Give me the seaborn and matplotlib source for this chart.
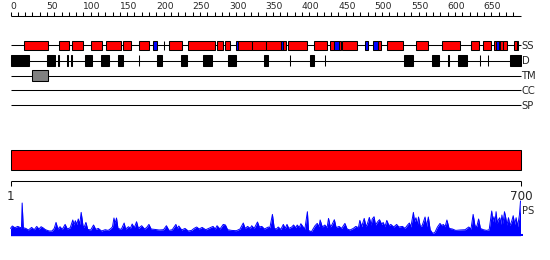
import matplotlib
matplotlib.use("Agg")
import matplotlib.pyplot as plt
import seaborn as sns
import pandas as pd

# ---------------- data ----------------
protein_length = 700
track_names = ["SS", "D", "TM", "CC", "SP"]

helix_segments = [(19, 51), (66, 80), (85, 99), (111, 125), (131, 152), (155, 165),
                  (177, 190), (210, 211), (218, 236), (243, 280), (284, 291), (295, 301),
                  (312, 331), (331, 350), (350, 371), (374, 378), (381, 407), (417, 434),
                  (439, 444), (451, 453), (455, 476), (504, 508), (517, 539), (556, 573),
                  (592, 617), (632, 643), (649, 659), (663, 666), (670, 672), (672, 676),
                  (676, 682), (691, 695), (695, 697)]
strand_segments = [(196, 201), (309, 312), (371, 374), (444, 451), (487, 490),
                   (498, 504), (666, 670)]
disorder_segments = [(0, 26), (50, 61), (65, 66), (78, 79), (83, 84), (102, 112),
                     (124, 135), (148, 154), (176, 177), (201, 208), (234, 242),
                     (264, 277), (298, 310), (348, 353), (383, 384), (411, 417),
                     (431, 432), (540, 552), (578, 588), (601, 602), (614, 627),
                     (644, 645), (655, 656), (686, 700)]
tm_segments = [(30, 52)]
domain_segments = [(1, 700)]
bottom_tick_labels = ["1", "700"]

ps_residue = [0, 2.5, 6, 10, 13, 15, 16, 17.5, 21, 24.5,
              29, 32.5, 36, 39, 42, 45, 48, 53, 57, 60,
              62.5, 65, 68, 71, 75, 78, 82, 85.5, 87, 89,
              91, 93, 95, 97, 99.5, 101, 103.5, 106, 110, 114,
              117, 120.5, 125, 130, 134, 138, 140, 142, 143.5, 145.5,
              147.5, 152, 156, 158, 162, 164.5, 167, 170, 173, 175.5,
              180, 184, 187, 190, 193, 198, 204, 210, 214, 217.5,
              222, 227, 229, 231, 235, 239.5, 244, 248.5, 252, 255.5,
              259, 263, 268, 272, 278, 281, 283.5, 287.5, 292, 295,
              298, 303.5, 310, 315, 319.5, 322, 325.5, 329, 331, 334.5,
              339, 341.5, 345, 348.5, 354, 356, 359.5, 362, 365, 367.5,
              371, 374.5, 377, 379.5, 382, 386, 388.5, 391.5, 393.5, 396.5,
              398.5, 401.5, 404, 407.5, 409, 413, 418, 421, 423.5, 425,
              428, 431.5, 434.5, 436.5, 439, 441.5, 444.5, 447, 451, 454.5,
              459, 462, 466, 470.5, 474, 477.5, 479.5, 482, 485.5, 488,
              490, 492.5, 495, 496.5, 499, 501, 504, 506.5, 509.5, 511.5,
              514, 516.5, 519.5, 522, 526, 530, 533, 538, 541.5, 545,
              547.5, 549.5, 553, 554.5, 556.5, 558.5, 560, 562.5, 565, 569,
              571, 573.5, 576, 579.5, 582.5, 586, 589.5, 592, 594, 596.5,
              599, 602, 606.5, 611, 617, 624, 629, 632, 635, 637.5,
              640, 642.5, 645, 649, 653.5, 657, 660.5, 662, 663.5, 665,
              666.5, 668, 669.5, 671.5, 673, 674.5, 676, 678, 679.5, 681.5,
              683.5, 685.5, 688, 690, 692, 694, 696, 698.5, 700]
ps_score = [7.3, 9.7, 8, 9.3, 8.3, 8, 32.7, 8, 7.3, 5.7,
            8.3, 6, 9.3, 6.7, 9, 7.7, 6, 4.7, 4.7, 7.3,
            13.3, 6.7, 9, 6.3, 11.3, 6.7, 8, 15.7, 10.7, 15,
            11.3, 16.7, 11.3, 23.3, 10, 8.3, 13.3, 6.3, 5.7, 10.7,
            6.3, 7.3, 4.7, 6, 5.3, 7.3, 9, 17.7, 12.3, 17.7,
            7.3, 6.3, 12.7, 6.7, 9, 7.3, 11.7, 8, 14, 7.3,
            10, 6.7, 8.3, 11.3, 6.7, 6.3, 5.7, 6, 10, 5.3,
            6, 11.3, 7.3, 9.7, 5.7, 7.3, 4.7, 5.3, 7.3, 8.7,
            6.7, 8.3, 6, 7.3, 9.3, 6.7, 10, 6.7, 11.3, 10.7,
            6, 5.3, 5, 6.7, 12.7, 7.3, 9.3, 7.3, 10, 7.3,
            13.7, 8.7, 9.3, 6.7, 8.7, 8, 21.3, 7.3, 6.7, 8.7,
            6.3, 11.3, 7.3, 11.3, 7.3, 8.7, 10.7, 8, 10.7, 8.3,
            12, 9, 6.7, 24, 5.3, 4, 10, 12.3, 9, 15.7,
            8.7, 10.7, 8, 17.3, 8.7, 11.3, 16, 8, 9.3, 7.3,
            12.3, 6.7, 5.7, 7.3, 9.3, 8, 15.3, 9, 17.3, 9,
            12.3, 18.3, 10.7, 16.7, 19, 10.7, 14, 16, 11.3, 13.3,
            9, 15.3, 10, 11.3, 8.7, 11.3, 8.7, 9.3, 7.3, 10.7,
            12.7, 8.7, 23.3, 14, 18, 10.7, 18.7, 9, 10, 18.7,
            9, 18.7, 6, 2.3, 3.3, 8.7, 12.3, 10, 11.3, 9,
            15.7, 7.3, 6.7, 5.3, 5.7, 6, 8.7, 6.7, 21.3, 10,
            9, 16.7, 7.3, 6, 5.3, 6, 24.7, 14, 19, 13.3,
            24, 12.3, 15.7, 18, 11.3, 20.7, 12.3, 24, 19, 10.7,
            18, 10, 14.7, 20, 11.3, 18, 9, 20.7, 34.7]

# ---------------- layout ----------------
W, H = 550, 260
x0_px, px_per_res = 10.5, 510.0 / 700
xlim = (-x0_px / px_per_res, (W - x0_px) / px_per_res)

sns.set_theme(style="white")
plt.rcParams["font.family"] = ["DejaVu Sans"]

fig = plt.figure(figsize=(W / 100, H / 100), dpi=100)
ax = fig.add_axes([0, 0, 1, 1])
ax.set_xlim(*xlim)
ax.set_ylim(H, 0)
ax.axis("off")

lw = 0.75
track_y = {"SS": 45.3, "D": 60.5, "TM": 75.5, "CC": 90.3, "SP": 105.3}

# top ruler
ruler_y = 15.7
ax.hlines(ruler_y, 0, protein_length, color="black", lw=lw)
ax.vlines(range(0, protein_length, 10), ruler_y - 3.3, ruler_y, color="black", lw=lw)
for t in range(0, protein_length, 50):
    ax.text(t - 0.3, ruler_y - 4.3, str(t), ha="left", va="bottom", fontsize=6.6)

# tracks
for name in track_names:
    y = track_y[name]
    ax.hlines(y, 0, protein_length, color="black", lw=lw, zorder=1)
    ax.text(protein_length + 1.5, y + 0.5, name, ha="left", va="center", fontsize=7.2)

def draw_boxes(segs, y, h, color):
    ax.barh([y] * len(segs), [e - s for s, e in segs], left=[s for s, e in segs],
            height=h, color=color, edgecolor="black", linewidth=lw, zorder=2)

draw_boxes(helix_segments, track_y["SS"], 9.5, "#ff0000")
draw_boxes(strand_segments, track_y["SS"], 9.5, "#0000ff")
draw_boxes(disorder_segments, track_y["D"], 10.3, "black")
draw_boxes(tm_segments, track_y["TM"], 10.3, "#808080")

# domain bar
ax.barh([160.3] * len(domain_segments), [e - s + 1 for s, e in domain_segments],
        left=[s - 1 for s, e in domain_segments], height=20, color="#ff0000",
        edgecolor="black", linewidth=lw, zorder=2)

# bottom ruler
by = 180.5
ax.hlines(by, 0, protein_length, color="black", lw=lw)
bticks = [0, protein_length]
ax.vlines(bticks, by, by + 5, color="black", lw=lw)
for t, lab in zip(bticks, bottom_tick_labels):
    ax.text(t + 0.5, by + 15.5, lab, ha="center", va="center", fontsize=8.6)

# PS profile
base_px = 235.7
axp = fig.add_axes([0, (H - base_px) / H, 1, 40 / H])
axp.set_xlim(*xlim)
axp.set_ylim(0, 40)
axp.axis("off")
axp.patch.set_alpha(0)
df = pd.DataFrame({"residue": ps_residue, "score": ps_score})
axp.fill_between(df["residue"], 0, df["score"], color="#0000ff", lw=0)
sns.lineplot(data=df, x="residue", y="score", ax=axp, color="#0000ff", lw=0.7,
             legend=False)
axp.hlines(0.6, 0, protein_length + 4, color="#0000ff", lw=1.5)
axp.axis("off")
ax.text(protein_length + 1.5, 210.5, "PS", ha="left", va="center", fontsize=7.2)

fig.savefig("out.png", dpi=100)
